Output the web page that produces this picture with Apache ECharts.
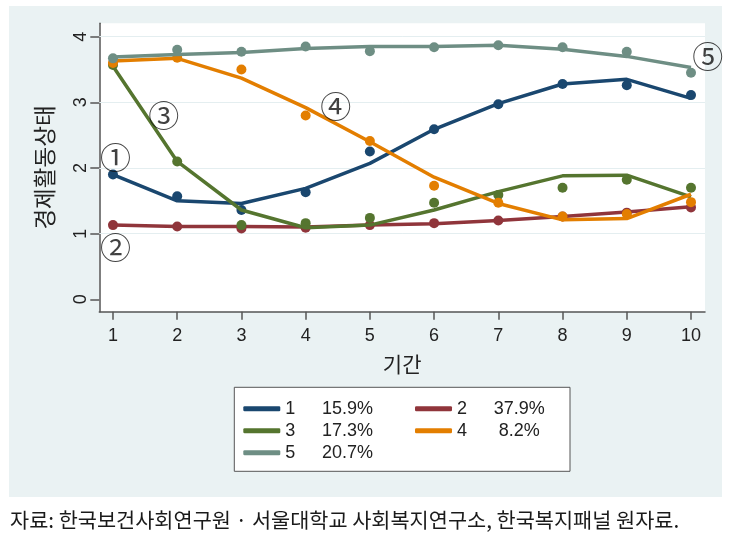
<!DOCTYPE html>
<html>
<head>
<meta charset="utf-8">
<script src="https://cdn.jsdelivr.net/npm/echarts@6/dist/echarts.min.js"></script>
<style>
  html, body { margin: 0; padding: 0; background: #ffffff; }
  #chart { width: 732px; height: 541px; }
</style>
</head>
<body>
<div id="chart"></div>
<script>
// ---- data ----
const periods = [1, 2, 3, 4, 5, 6, 7, 8, 9, 10];
const yTicks = [0, 1, 2, 3, 4];
const groupNames = ['1', '2', '3', '4', '5'];
const groupShares = ['15.9%', '37.9%', '17.3%', ' 8.2%', '20.7%'];
// fitted (estimated) trajectories
const fit1 = [1.90, 1.50, 1.46, 1.69, 2.07, 2.59, 2.98, 3.28, 3.35, 3.06];
const fit2 = [1.13, 1.11, 1.11, 1.10, 1.13, 1.15, 1.20, 1.26, 1.33, 1.41];
const fit3 = [3.55, 2.10, 1.36, 1.09, 1.13, 1.36, 1.64, 1.88, 1.89, 1.56];
const fit4 = [3.63, 3.67, 3.37, 2.92, 2.40, 1.86, 1.46, 1.21, 1.23, 1.60];
const fit5 = [3.69, 3.73, 3.76, 3.82, 3.85, 3.85, 3.87, 3.81, 3.70, 3.53];
// observed means (dots)
const obs1 = [1.90, 1.57, 1.36, 1.63, 2.25, 2.59, 2.97, 3.28, 3.26, 3.11];
const obs2 = [1.13, 1.11, 1.08, 1.09, 1.13, 1.16, 1.20, 1.26, 1.32, 1.40];
const obs3 = [3.57, 2.10, 1.13, 1.16, 1.24, 1.47, 1.59, 1.70, 1.82, 1.70];
const obs4 = [3.60, 3.68, 3.50, 2.80, 2.41, 1.73, 1.47, 1.26, 1.30, 1.48];
const obs5 = [3.67, 3.80, 3.77, 3.85, 3.78, 3.84, 3.87, 3.84, 3.77, 3.45];
// circled group labels
const tagX = [1.04, 1.04, 1.79, 4.47, 10.26];
const tagY = [2.17, 0.80, 2.81, 2.94, 3.70];
const tagText = ['①', '②', '③', '④', '⑤'];
const gridLines = [1, 2, 3, 4];

const colors = ['#1a476f', '#90353b', '#55752f', '#e37e00', '#6e8e84'];
const fits = [fit1, fit2, fit3, fit4, fit5];
const obss = [obs1, obs2, obs3, obs4, obs5];

const latin = '"Liberation Sans", Arial, "Noto Sans CJK KR", sans-serif';
const kr = '"Noto Sans CJK KR", "Liberation Sans", sans-serif';

const series = [];
fits.forEach((f, g) => {
  series.push({
    name: groupNames[g],
    type: 'scatter',
    data: periods.map((p, i) => [p, obss[g][i]]),
    symbol: 'circle',
    symbolSize: 10,
    itemStyle: { color: colors[g], opacity: 1 },
    z: 3 + g * 2,
    silent: true
  });
  const s = {
    name: groupNames[g],
    type: 'line',
    data: periods.map((p, i) => [p, f[i]]),
    showSymbol: false,
    symbol: 'none',
    color: colors[g],
    lineStyle: { color: colors[g], width: 3.5, opacity: 1 },
    itemStyle: { color: colors[g] },
    z: 4 + g * 2,
    silent: true
  };
  if (g === 0) {
    s.markLine = {
      silent: true,
      symbol: 'none',
      label: { show: false },
      lineStyle: { color: '#e4eef0', width: 1, type: 'solid' },
      data: gridLines.map(v => ({ yAxis: v })),
      z: 1
    };
  }
  series.push(s);
});
series.push({
  name: 'tags',
  type: 'scatter',
  data: tagX.map((x, i) => ({ value: [x, tagY[i]], name: tagText[i] })),
  symbolSize: 2,
  itemStyle: { color: 'rgba(0,0,0,0)' },
  clip: false,
  silent: true,
  z: 20,
  label: {
    show: true,
    position: 'inside',
    formatter: p => p.name,
    fontFamily: kr,
    fontSize: 31,
    color: '#111'
  }
});

const chart = echarts.init(document.getElementById('chart'), null, { renderer: 'canvas' });
chart.setOption({
  backgroundColor: '#ffffff',
  animation: false,
  textStyle: { fontFamily: latin },
  graphic: [
    { type: 'rect', z: -10, shape: { x: 9, y: 6, width: 713, height: 491 }, style: { fill: '#eaf2f3' }, silent: true },
    { type: 'rect', z: 50, shape: { x: 234.3, y: 387.3, width: 335.7, height: 84 }, style: { fill: '#ffffff', stroke: '#555555', lineWidth: 1 }, silent: true },
    { type: 'text', z: 50, x: 10, y: 520, style: { text: '자료: 한국보건사회연구원 · 서울대학교 사회복지연구소, 한국복지패널 원자료.', font: '20.8px "Noto Sans CJK KR"', fill: '#1a1a1a', textVerticalAlign: 'middle' }, silent: true }
  ],
  grid: {
    left: 99.3, top: 23.3, right: 27, bottom: 229.3,
    show: true, backgroundColor: '#ffffff', borderWidth: 0,
    outerBoundsMode: 'none', containLabel: false
  },
  xAxis: {
    type: 'value', min: 0.787, max: 10.218,
    name: '기간', nameLocation: 'middle', nameGap: 42,
    nameTextStyle: { fontSize: 21, color: '#222', fontFamily: kr },
    axisLine: { show: true, onZero: false, lineStyle: { color: '#555', width: 1.5 } },
    axisTick: { show: true, length: 8, customValues: periods, lineStyle: { color: '#555', width: 1.5 } },
    axisLabel: { customValues: periods, fontSize: 18, color: '#222', margin: 15, fontFamily: latin },
    splitLine: { show: false }
  },
  yAxis: {
    type: 'value', min: -0.189, max: 4.204,
    name: '경제활동상태', nameLocation: 'middle', nameGap: 44, nameRotate: 90,
    nameTextStyle: { fontSize: 22.5, color: '#222', fontFamily: kr },
    axisLine: { show: true, onZero: false, lineStyle: { color: '#555', width: 1.5 } },
    axisTick: { show: true, length: 9, customValues: yTicks, lineStyle: { color: '#555', width: 1.5 } },
    axisLabel: { customValues: yTicks, rotate: 90, fontSize: 18, color: '#222', margin: 9, fontFamily: latin },
    splitLine: { show: false }
  },
  legend: {
    data: groupNames,
    left: 243.3, top: 398.7, width: 400, padding: 0,
    itemGap: 2, itemWidth: 37, itemHeight: 5, icon: 'roundRect',
    selectedMode: false, z: 60,
    formatter: name => '{n|' + name + '}{p|' + groupShares[groupNames.indexOf(name)] + '}',
    textStyle: {
      fontSize: 18, color: '#222', fontFamily: latin, lineHeight: 20,
      rich: {
        n: { width: 36.7, fontSize: 18, lineHeight: 20, fontFamily: latin },
        p: { width: 91, fontSize: 18, lineHeight: 20, fontFamily: latin }
      }
    }
  },
  series: series
});
</script>
</body>
</html>
